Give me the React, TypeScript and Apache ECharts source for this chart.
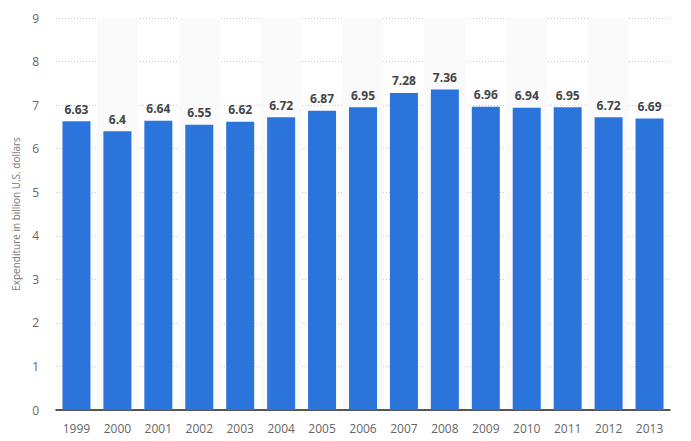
import React, { useEffect, useRef } from "react";
import * as echarts from "echarts";

const years = ["1999","2000","2001","2002","2003","2004","2005","2006","2007","2008","2009","2010","2011","2012","2013"];
const values = [6.63, 6.4, 6.64, 6.55, 6.62, 6.72, 6.87, 6.95, 7.28, 7.36, 6.96, 6.94, 6.95, 6.72, 6.69];
const yAxisTitle = "Expenditure in billion U.S. dollars";

export default function App() {
  const ref = useRef<HTMLDivElement>(null);
  useEffect(() => {
    if (!ref.current) return;
    const chart = echarts.init(ref.current, undefined, { renderer: "svg" });
    chart.setOption({
      animation: false,
      textStyle: { fontFamily: "'Open Sans', 'Noto Sans', sans-serif" },
      grid: { left: 56, right: 21, top: 18, bottom: 31, containLabel: false },
      xAxis: {
        type: "category",
        data: years,
        axisLine: { show: true, lineStyle: { color: "#222", width: 1.5 } },
        axisTick: { show: false },
        axisLabel: { color: "#666", fontSize: 12, margin: 12 },
        splitArea: { show: true, areaStyle: { color: ["rgba(255,255,255,0)", "#fafafa"] } },
      },
      yAxis: {
        type: "value",
        min: 0,
        max: 9,
        interval: 1,
        name: yAxisTitle,
        nameLocation: "middle",
        nameGap: 28,
        nameTextStyle: { color: "#777", fontSize: 10 },
        axisLine: { show: false },
        axisTick: { show: false },
        axisLabel: { color: "#666", fontSize: 12, margin: 17 },
        splitLine: { show: true, lineStyle: { color: "#c8c8c8", type: [1, 2], width: 1 } },
      },
      series: [
        {
          type: "bar",
          data: values,
          barWidth: 28,
          itemStyle: { color: "#2a74db" },
          label: {
            show: true,
            position: "top",
            color: "#444",
            fontWeight: "bold",
            fontSize: 12,
            distance: 6,
          },
        },
      ],
    });
    return () => chart.dispose();
  }, []);
  return <div ref={ref} style={{ width: 691, height: 441, position: "absolute", left: 0, top: 0 }} />;
}
